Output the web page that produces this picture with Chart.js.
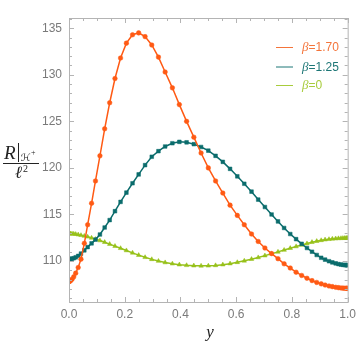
<!DOCTYPE html>
<html>
<head>
<meta charset="utf-8">
<script src="https://cdn.jsdelivr.net/npm/chart.js@4.4.0/dist/chart.umd.min.js"></script>
<style>
html, body { margin: 0; padding: 0; background: #fff; }
canvas { display: block; }
</style>
</head>
<body>
<canvas id="chart" width="361" height="347"></canvas>
<script>
// sample points along y (horizontal axis)
var yGrid = [
    0, 0.001, 0.003, 0.006, 0.011, 0.017, 0.024, 0.033, 0.043, 0.055,
    0.067, 0.081, 0.095, 0.111, 0.128, 0.146, 0.165, 0.185, 0.206, 0.228,
    0.25, 0.273, 0.297, 0.321, 0.345, 0.371, 0.396, 0.422, 0.448, 0.474,
    0.5,
    0.526, 0.552, 0.578, 0.604, 0.629, 0.655, 0.679, 0.703, 0.727, 0.75,
    0.772, 0.794, 0.815, 0.835, 0.854, 0.872, 0.889, 0.905, 0.919, 0.933,
    0.945, 0.957, 0.967, 0.976, 0.983, 0.989, 0.994, 0.997, 0.999, 1
];

// R|_H+ / l^2 for each beta
var beta170 = [
    107.8, 107.8, 107.83, 107.9, 108.05, 108.3, 108.7, 109.3, 110.2, 111.9,
    113.9, 116.2, 118.6, 121.3, 124.2, 127.0, 129.6, 131.8, 133.4, 134.3,
    134.5, 134.1, 133.2, 131.9, 130.3, 128.6, 126.8, 125.0, 123.3, 121.6,
    120.0,
    118.6, 117.3, 116.0, 114.9, 113.9, 112.9, 112.1, 111.4, 110.8, 110.25,
    109.7, 109.25, 108.8, 108.45, 108.15, 107.9, 107.7, 107.55, 107.42, 107.32,
    107.25, 107.18, 107.14, 107.11, 107.09, 107.08, 107.07, 107.07, 107.07, 107.07
];
var beta125 = [
    110.2, 110.2, 110.2, 110.22, 110.25, 110.3, 110.4, 110.55, 110.8, 111.15,
    111.5, 111.9, 112.3, 112.85, 113.6, 114.4, 115.35, 116.35, 117.35, 118.35,
    119.3, 120.3, 121.2, 121.8, 122.3, 122.65, 122.8, 122.75, 122.55, 122.25,
    121.85,
    121.3, 120.65, 119.9, 119.1, 118.3, 117.45, 116.6, 115.8, 115.0, 114.25,
    113.55, 112.9, 112.35, 111.85, 111.4, 111.0, 110.65, 110.35, 110.15, 109.98,
    109.85, 109.75, 109.67, 109.62, 109.59, 109.57, 109.56, 109.56, 109.56, 109.56
];
var beta0 = [
    112.95, 112.95, 112.95, 112.94, 112.93, 112.91, 112.88, 112.83, 112.77, 112.69,
    112.6, 112.48, 112.35, 112.2, 112.02, 111.82, 111.6, 111.37, 111.13, 110.88,
    110.63, 110.4, 110.18, 110.0, 109.84, 109.71, 109.61, 109.54, 109.5, 109.48,
    109.49,
    109.53, 109.61, 109.72, 109.86, 110.02, 110.2, 110.38, 110.58, 110.78, 110.98,
    111.18, 111.38, 111.56, 111.73, 111.88, 112.02, 112.13, 112.22, 112.29, 112.34,
    112.38, 112.41, 112.43, 112.44, 112.45, 112.45, 112.45, 112.45, 112.45, 112.45
];

var betaLabels = ['1.70', '1.25', '0'];
var xTicks = [0, 0.2, 0.4, 0.6, 0.8, 1.0];
var yTicks = [110, 115, 120, 125, 130, 135];

var colors = ['#ff5a14', '#0b6c6c', '#97c11a'];
var legendColors = ['#f4743a', '#1d7676', '#a8cc3c'];
var markers = ['circle', 'rect', 'triangle'];

function toPoints(vals) {
    return vals.map(function (v, i) { return { x: yGrid[i], y: v }; });
}

// Frame with inward ticks on all four sides
var framePlugin = {
    id: 'frame',
    afterDraw: function (chart) {
        var ctx = chart.ctx, a = chart.chartArea;
        var xs = chart.scales.x, ys = chart.scales.y;
        ctx.save();
        ctx.strokeStyle = '#b4b4b4';
        ctx.lineWidth = 1;
        ctx.strokeRect(a.left + 0.5, a.top + 0.5, a.right - a.left, a.bottom - a.top);
        ctx.beginPath();
        var i, px, len;
        for (i = 0; i <= 20; i++) {
            px = Math.round(xs.getPixelForValue(i * 0.05)) + 0.5;
            len = (i % 4 === 0) ? 5 : 3;
            ctx.moveTo(px, a.bottom); ctx.lineTo(px, a.bottom - len);
            ctx.moveTo(px, a.top); ctx.lineTo(px, a.top + len);
        }
        for (i = 106; i <= 136; i++) {
            px = Math.round(ys.getPixelForValue(i)) + 0.5;
            len = (i % 5 === 0) ? 5 : 3;
            ctx.moveTo(a.left, px); ctx.lineTo(a.left + len, px);
            ctx.moveTo(a.right, px); ctx.lineTo(a.right - len, px);
        }
        ctx.stroke();
        ctx.restore();
    }
};

// Legend and axis titles
var textPlugin = {
    id: 'texts',
    afterDraw: function (chart) {
        var ctx = chart.ctx;
        ctx.save();
        // legend
        var ly = [47, 66.5, 85];
        for (var i = 0; i < betaLabels.length; i++) {
            ctx.strokeStyle = legendColors[i];
            ctx.lineWidth = 1;
            ctx.beginPath();
            ctx.moveTo(276, ly[i] + 0.5); ctx.lineTo(293, ly[i] + 0.5);
            ctx.stroke();
            ctx.fillStyle = legendColors[i];
            ctx.textBaseline = 'middle';
            ctx.textAlign = 'left';
            ctx.font = 'italic 13px "Liberation Serif"';
            ctx.fillText('\u03b2', 302, ly[i] + 1);
            var bw = ctx.measureText('\u03b2').width;
            ctx.font = '12px "Liberation Sans"';
            ctx.fillText('=' + betaLabels[i], 302 + bw, ly[i] + 1);
        }
        // y title: R|_{H+} / l^2
        ctx.fillStyle = '#222';
        ctx.strokeStyle = '#222';
        ctx.textBaseline = 'alphabetic';
        ctx.font = 'italic 19px "Liberation Serif"';
        ctx.fillText('R', 4, 159);
        ctx.lineWidth = 1;
        ctx.beginPath();
        ctx.moveTo(18.5, 143); ctx.lineTo(18.5, 162);
        ctx.stroke();
        ctx.font = '10px "DejaVu Sans"';
        ctx.fillText('\u210b', 21, 161);
        ctx.font = '8px "Liberation Serif"';
        ctx.fillText('+', 31, 155);
        ctx.beginPath();
        ctx.moveTo(3, 163.5); ctx.lineTo(39, 163.5);
        ctx.stroke();
        ctx.font = 'italic 17px "Liberation Serif"';
        ctx.fillText('\u2113', 15, 178);
        ctx.font = '10px "Liberation Serif"';
        ctx.fillText('2', 23, 172);
        // x title
        ctx.font = 'italic 17px "Liberation Serif"';
        ctx.textAlign = 'center';
        ctx.fillText('y', 210, 337);
        ctx.restore();
    }
};

var series = [beta170, beta125, beta0];
var datasets = series.map(function (vals, i) {
    return {
        label: '\u03b2=' + betaLabels[i],
        data: toPoints(vals),
        borderColor: colors[i],
        backgroundColor: colors[i],
        borderWidth: 1.5,
        pointStyle: markers[i],
        pointRadius: i === 0 ? 2.3 : 2.6,
        pointBorderWidth: 0.5,
        pointBackgroundColor: colors[i],
        pointBorderColor: colors[i],
        tension: 0,
        fill: false
    };
});

var tickFont = { family: '"Liberation Sans"', size: 12 };

new Chart(document.getElementById('chart').getContext('2d'), {
    type: 'line',
    data: { datasets: datasets },
    options: {
        responsive: false,
        animation: false,
        layout: { padding: { left: 0, right: 9, top: 18, bottom: 0 } },
        plugins: {
            legend: { display: false },
            tooltip: { enabled: false }
        },
        scales: {
            x: {
                type: 'linear',
                min: 0,
                max: 1,
                afterFit: function (s) { s.height = 45; },
                afterBuildTicks: function (s) { s.ticks = xTicks.map(function (v) { return { value: v }; }); },
                grid: { display: false, drawTicks: false },
                border: { display: false },
                ticks: {
                    callback: function (v) { return v.toFixed(1); },
                    padding: 5,
                    color: '#7a7a7a',
                    font: tickFont,
                    maxRotation: 0,
                    autoSkip: false
                }
            },
            y: {
                type: 'linear',
                min: 105.6,
                max: 136.1,
                afterFit: function (s) { s.width = 69; },
                afterBuildTicks: function (s) { s.ticks = yTicks.map(function (v) { return { value: v }; }); },
                grid: { display: false, drawTicks: false },
                border: { display: false },
                ticks: {
                    padding: 7,
                    color: '#7a7a7a',
                    font: tickFont
                }
            }
        }
    },
    plugins: [framePlugin, textPlugin]
});
</script>
</body>
</html>
